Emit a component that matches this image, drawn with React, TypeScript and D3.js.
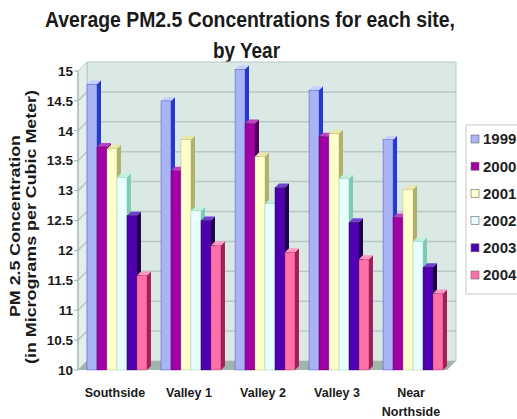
import React from 'react';
import { scaleBand, scaleLinear } from 'd3';

const sites = ['Southside', 'Valley 1', 'Valley 2', 'Valley 3', 'Near Northside'];
const years = ['1999', '2000', '2001', '2002', '2003', '2004'];

// one array per year, values in site order
const pm1999 = [14.78, 14.5, 15.03, 14.68, 13.85];
const pm2000 = [13.73, 13.33, 14.12, 13.9, 12.55];
const pm2001 = [13.7, 13.85, 13.57, 13.95, 13.02];
const pm2002 = [13.22, 12.66, 12.78, 13.2, 12.15];
const pm2003 = [12.58, 12.5, 13.05, 12.47, 11.72];
const pm2004 = [11.58, 12.08, 11.97, 11.85, 11.28];
const series = [pm1999, pm2000, pm2001, pm2002, pm2003, pm2004];

const yTicks = ['10', '10.5', '11', '11.5', '12', '12.5', '13', '13.5', '14', '14.5', '15'];

const fronts = ['#aab4f4', '#a000a4', '#ffffcc', '#e8ffff', '#5000b0', '#ff70a8'];
const sides = ['#2838c8', '#500058', '#b0b070', '#80c8b8', '#200048', '#a02058'];
const tops = ['#c8d0ff', '#c040c0', '#e8e8a8', '#c0f0e0', '#7040d0', '#ff98c0'];

const W = 517;
const H = 419;
const font = '"Liberation Sans", Arial, sans-serif';

export default function App() {
  const y = scaleLinear().domain([10, 15]).range([370, 71]);
  const x = scaleBand<string>().domain(sites).range([87, 443]).paddingInner(0.19).paddingOuter(0);
  const xi = scaleBand<string>().domain(years).range([0, x.bandwidth()]);

  const axisX = 78;
  const wallR = 447;
  const dx = 9;
  const dy = -9;
  const bd = 4; // bar depth
  const y0 = y(10);
  const yTop = y(15);

  return (
    <svg width={W} height={H} style={{ position: 'absolute', left: 0, top: 0, background: '#fff' }}>
      <g fontFamily={font} fontWeight="bold" fill="#1a1a1a" fontSize={22} textAnchor="middle">
        <text x={250} y={27} textLength={410} lengthAdjust="spacingAndGlyphs">
          Average PM2.5 Concentrations for each site,
        </text>
        <text x={246.5} y={58} textLength={67} lengthAdjust="spacingAndGlyphs">
          by Year
        </text>
      </g>

      {/* walls */}
      <polygon
        points={`${axisX + dx},${yTop + dy} ${wallR + dx},${yTop + dy} ${wallR + dx},${y0 + dy} ${axisX + dx},${y0 + dy}`}
        fill="#dbe9e5"
        stroke="#b8c8c4"
      />
      <polygon
        points={`${axisX},${yTop} ${axisX + dx},${yTop + dy} ${axisX + dx},${y0 + dy} ${axisX},${y0}`}
        fill="#e4efec"
        stroke="#b8c8c4"
      />
      {yTicks.slice(1, -1).map((t) => {
        const v = +t;
        return (
          <polyline
            key={t}
            points={`${axisX},${y(v)} ${axisX + dx},${y(v) + dy} ${wallR + dx},${y(v) + dy}`}
            fill="none"
            stroke="#b8c8c4"
            strokeWidth={1.5}
          />
        );
      })}
      <polygon
        points={`${axisX},${y0} ${wallR},${y0} ${wallR + dx},${y0 + dy} ${axisX + dx},${y0 + dy}`}
        fill="#9fb5ad"
      />
      <line x1={axisX} x2={axisX} y1={yTop} y2={y0} stroke="#a0aeaa" />

      {/* y ticks */}
      <g fontFamily={font} fontWeight="bold" fontSize={13.5} fill="#1a1a1a">
        {yTicks.map((t) => (
          <g key={t}>
            <line x1={axisX - 4} x2={axisX} y1={y(+t)} y2={y(+t)} stroke="#a0aeaa" />
            <text x={73} y={y(+t)} dy="0.35em" textAnchor="end">
              {t}
            </text>
          </g>
        ))}
      </g>

      {/* bars */}
      {sites.map((s, si) => (
        <g key={s}>
          {years.map((yr, k) => {
            const v = series[k][si];
            const bx = (x(s) ?? 0) + (xi(yr) ?? 0);
            const bw = xi.bandwidth();
            const by = y(v);
            return (
              <g key={yr}>
                <polygon
                  points={`${bx + bw},${by} ${bx + bw + bd},${by - bd} ${bx + bw + bd},${y0 - bd} ${bx + bw},${y0}`}
                  fill={sides[k]}
                />
                <polygon
                  points={`${bx},${by} ${bx + bd},${by - bd} ${bx + bw + bd},${by - bd} ${bx + bw},${by}`}
                  fill={tops[k]}
                />
                <rect x={bx} y={by} width={bw} height={y0 - by} fill={fronts[k]} stroke={sides[k]} strokeWidth={0.4} />
              </g>
            );
          })}
        </g>
      ))}

      {/* x labels */}
      <g fontFamily={font} fontWeight="bold" fontSize={12.5} fill="#1a1a1a" textAnchor="middle">
        {sites.map((s) => {
          const cx = (x(s) ?? 0) + x.bandwidth() / 2 - 2;
          const parts = s === 'Near Northside' ? ['Near', 'Northside'] : [s];
          return parts.map((p, i) => (
            <text key={p} x={cx} y={397 + i * 19}>
              {p}
            </text>
          ));
        })}
      </g>

      {/* y axis title */}
      <g fontFamily={font} fontWeight="bold" fontSize={14} fill="#1a1a1a" textAnchor="middle">
        <text transform="translate(20,226) rotate(-90)" textLength={182} lengthAdjust="spacingAndGlyphs">
          PM 2.5 Concentration
        </text>
        <text transform="translate(36,227) rotate(-90)" textLength={274} lengthAdjust="spacingAndGlyphs">
          (in Micrograms per Cubic Meter)
        </text>
      </g>

      {/* legend */}
      <rect x={466} y={125} width={60} height={169} fill="#fff" stroke="#c8c8c8" />
      <g fontFamily={font} fontWeight="bold" fontSize={15} fill="#222">
        {years.map((yr, k) => {
          const ly = 139 + k * 27.2;
          return (
            <g key={yr}>
              <rect x={471} y={ly - 4} width={8} height={8} fill={fronts[k]} stroke="#666" strokeWidth={0.6} />
              <text x={483} y={ly} dy="0.36em">
                {yr}
              </text>
            </g>
          );
        })}
      </g>
    </svg>
  );
}
